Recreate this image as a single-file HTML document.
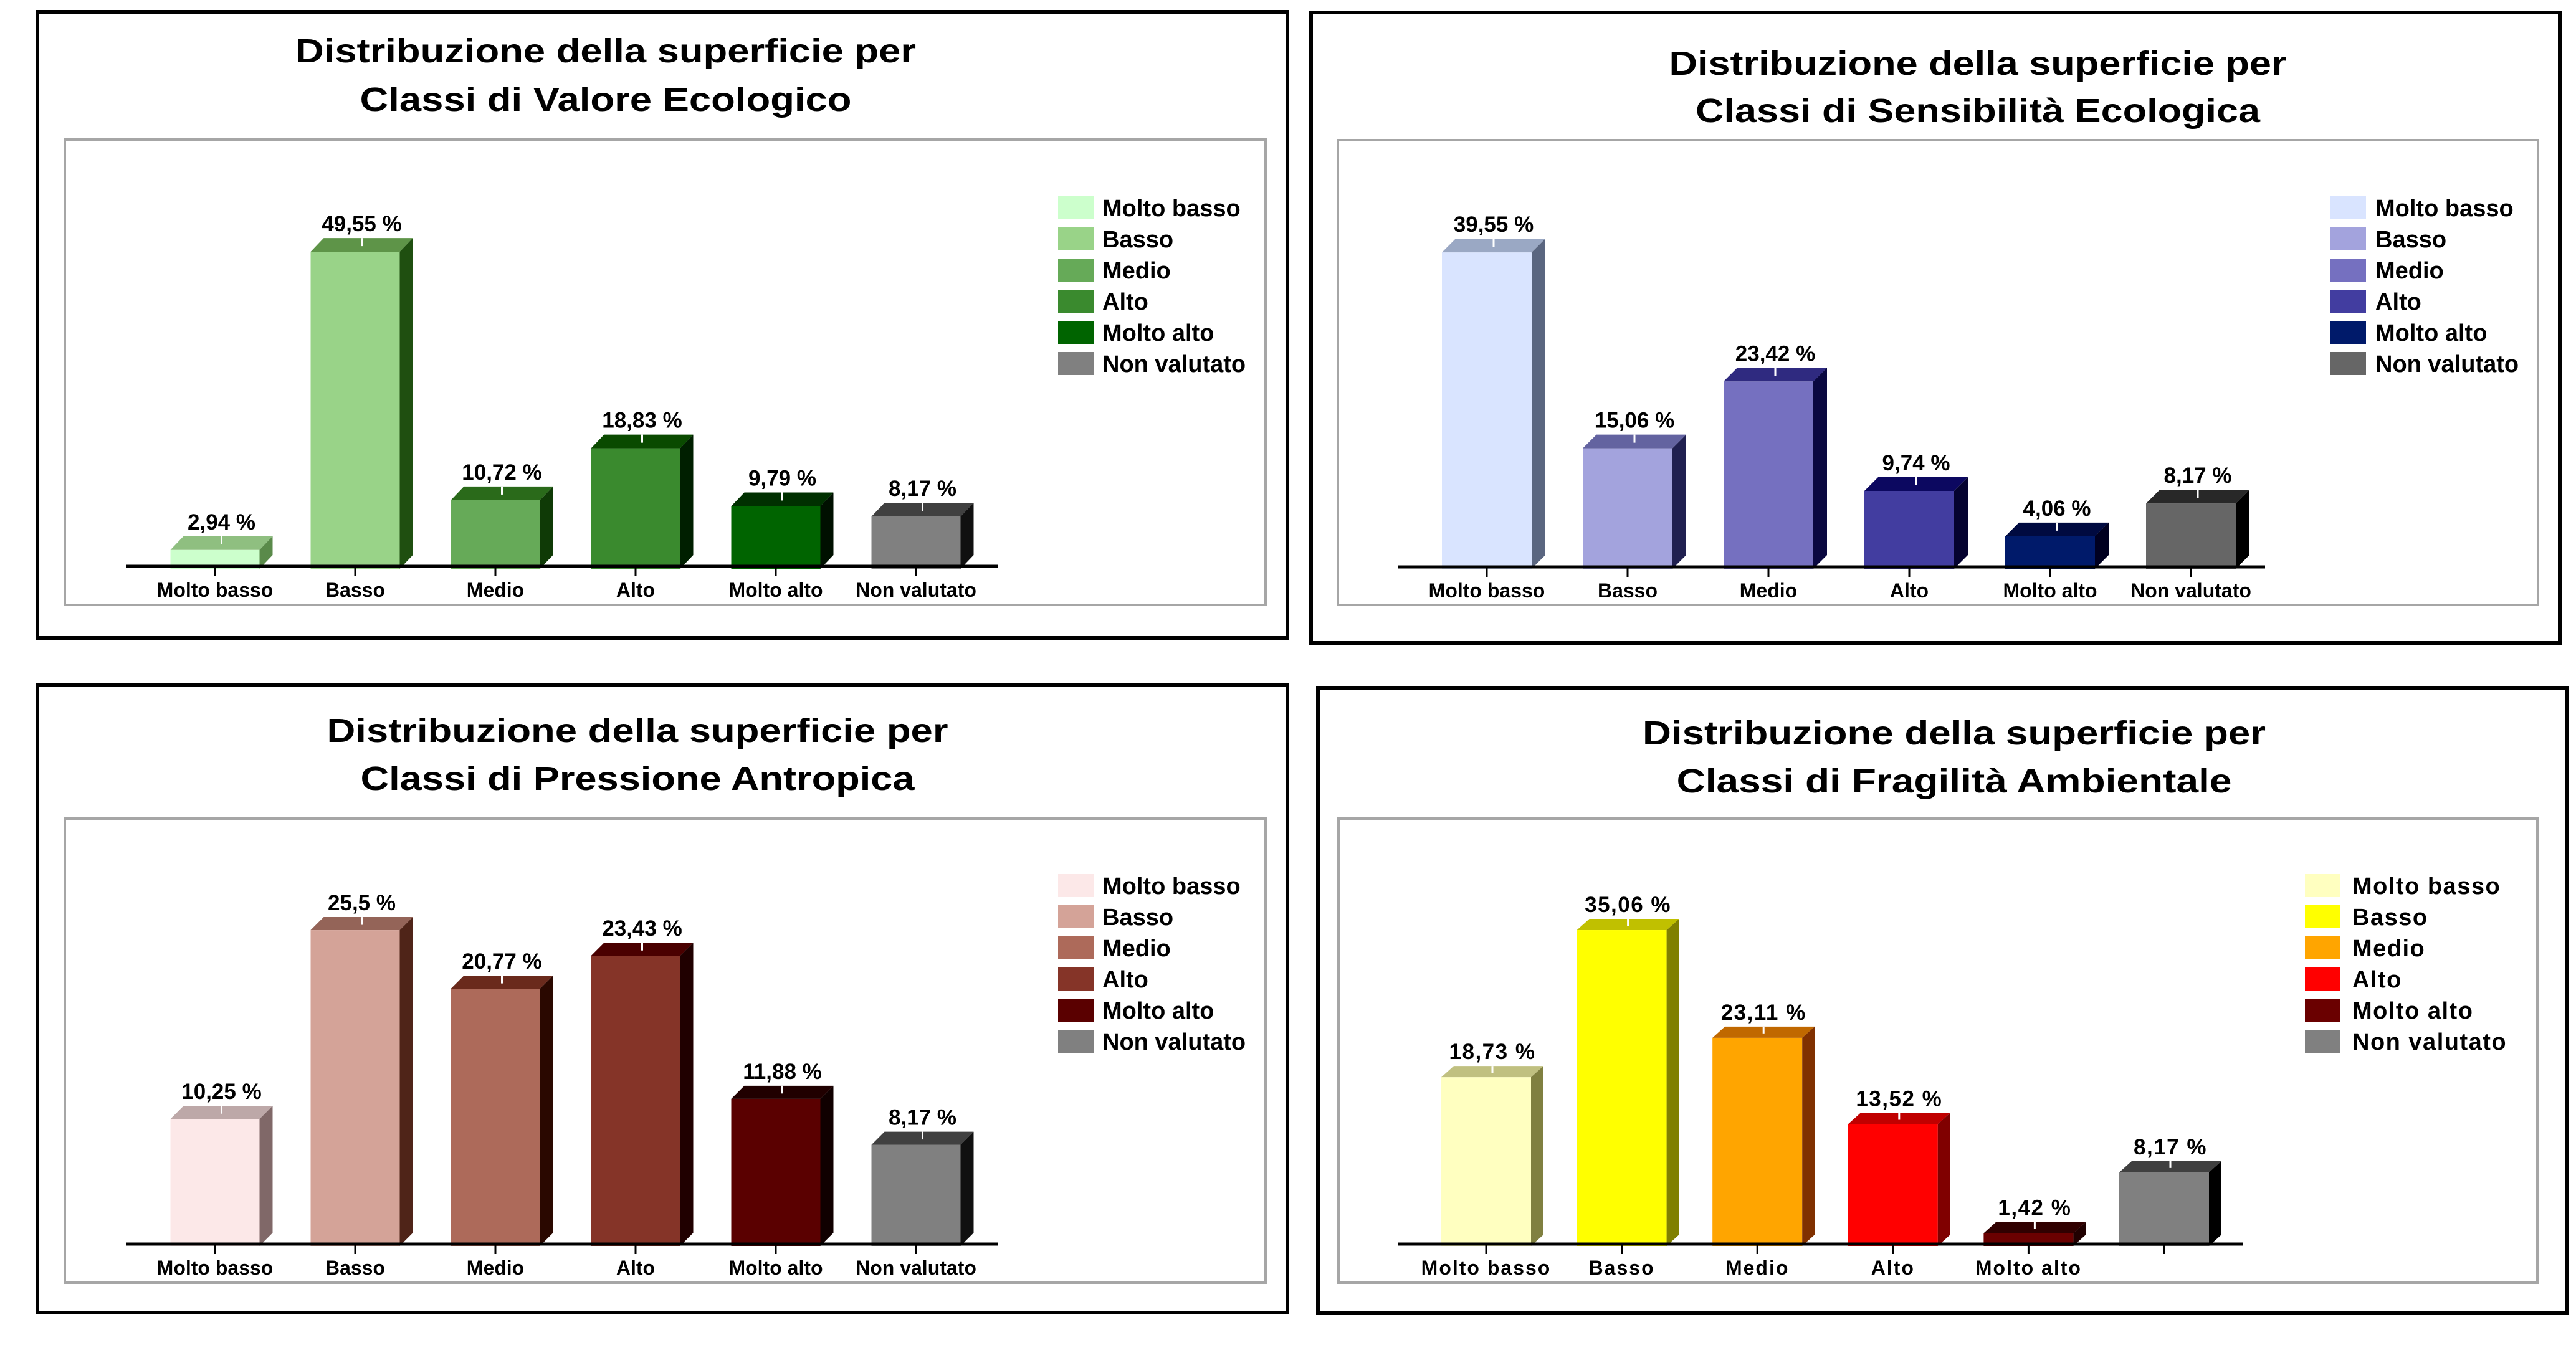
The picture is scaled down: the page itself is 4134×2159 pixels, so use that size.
<!DOCTYPE html>
<html><head><meta charset="utf-8">
<style>
html,body{margin:0;padding:0;background:#fff;}
svg{display:block;font-family:"Liberation Sans",Arial,sans-serif;}
</style></head>
<body>
<svg id="root" width="4134" height="2159" viewBox="0 0 4134 2159" xmlns="http://www.w3.org/2000/svg">
<rect x="0" y="0" width="4134" height="2159" fill="#fff"/>
</svg>
<script>
const categories = ["Molto basso","Basso","Medio","Alto","Molto alto","Non valutato"];
const valuesEco = [2.94, 49.55, 10.72, 18.83, 9.79, 8.17];
const labelsEco = ["2,94 %","49,55 %","10,72 %","18,83 %","9,79 %","8,17 %"];
const valuesSens = [39.55, 15.06, 23.42, 9.74, 4.06, 8.17];
const labelsSens = ["39,55 %","15,06 %","23,42 %","9,74 %","4,06 %","8,17 %"];
const valuesPress = [10.25, 25.5, 20.77, 23.43, 11.88, 8.17];
const labelsPress = ["10,25 %","25,5 %","20,77 %","23,43 %","11,88 %","8,17 %"];
const valuesFrag = [18.73, 35.06, 23.11, 13.52, 1.42, 8.17];
const labelsFrag = ["18,73 %","35,06 %","23,11 %","13,52 %","1,42 %","8,17 %"];
const categoriesFrag = ["Molto basso","Basso","Medio","Alto","Molto alto",""];

const NS = "http://www.w3.org/2000/svg";
const root = document.getElementById('root');
function mk(tag, attrs, parent){
  const e = document.createElementNS(NS, tag);
  for (const k in attrs) e.setAttribute(k, attrs[k]);
  parent.appendChild(e);
  return e;
}

const charts = [
 {key:'valore-ecologico', title1:'Distribuzione della superficie per', title2:'Classi di Valore Ecologico',
  vals:valuesEco, labs:labelsEco, cats:categories,
  border:[60,19,2066,1024], plot:[104,224,2031,971], base:909, axisX:[203,1602], bottom:913,
  c0:345, step:225, bw:143, ppp:10.27, dx:21, dy:22, tcx:972, ty:[100,178], t1w:996, t2w:789,
  lx:1698, ly:315, lstep:50, ltx:1769,
  front:['#ccffcc','#99d388','#66aa58','#3a8a2e','#006400','#808080'],
  top:['#8fbf80','#5e9448','#2a6a1a','#0a4a00','#003000','#404040'],
  side:['#5a8a4a','#1f4f10','#0f3a06','#001f00','#001000','#101010']},
 {key:'sensibilita-ecologica', title1:'Distribuzione della superficie per', title2:'Classi di Sensibilità Ecologica',
  vals:valuesSens, labs:labelsSens, cats:categories,
  border:[2104,20,4108,1032], plot:[2147,225,4073,971], base:910, axisX:[2244,3635], bottom:913,
  c0:2386, step:226, bw:144, ppp:12.84, dx:22, dy:22, tcx:3174, ty:[120,196], t1w:991, t2w:906,
  lx:3740, ly:315, lstep:50, ltx:3812,
  front:['#d9e4ff','#a3a3dd','#7570c0','#423da0','#001a6a','#666666'],
  top:['#9aa8c4','#6363a0','#2f2a80','#0c0860','#000a40','#282828'],
  side:['#5a6680','#202050','#0a0840','#050330','#000020','#000000']},
 {key:'pressione-antropica', title1:'Distribuzione della superficie per', title2:'Classi di Pressione Antropica',
  vals:valuesPress, labs:labelsPress, cats:categories,
  border:[60,1100,2066,2107], plot:[104,1314,2031,2059], base:1997, axisX:[203,1602], bottom:2000,
  c0:345, step:225, bw:143, ppp:19.88, dx:21, dy:21, tcx:1023, ty:[1191,1268], t1w:997, t2w:889,
  lx:1698, ly:1403, lstep:50, ltx:1769,
  front:['#fce8e8','#d4a398','#ad6a5a','#853428','#5a0000','#808080'],
  top:['#bda8a8','#946458','#6a2a1c','#4a0000','#200000','#404040'],
  side:['#806868','#4f2418','#2a0800','#200000','#100000','#101010']},
 {key:'fragilita-ambientale', title1:'Distribuzione della superficie per', title2:'Classi di Fragilità Ambientale',
  vals:valuesFrag, labs:labelsFrag, cats:categoriesFrag,
  border:[2115,1104,4120,2108], plot:[2148,1314,4072,2059], base:1997, axisX:[2244,3600], bottom:2000,
  c0:2385, step:217.6, bw:144, ppp:14.46, dx:20, dy:18, tcx:3136, ty:[1195,1272], t1w:1000, t2w:891,
  lx:3699, ly:1403, lstep:50, ltx:3775, spaced:true,
  front:['#ffffc0','#ffff00','#ffa500','#ff0000','#6a0000','#808080'],
  top:['#c0c080','#c0c000','#c06800','#c00000','#300000','#404040'],
  side:['#808040','#808000','#803000','#800000','#200000','#000000']}
];

charts.forEach(c => {
  const g = mk('g', {}, root);
  
  
  const b = c.border;
  const fr = mk('rect', {x:b[0], y:b[1], width:b[2]-b[0], height:b[3]-b[1], fill:'#fff', stroke:'#000', 'stroke-width':6}, g);
  
  
  const t1 = mk('text', {x:c.tcx, y:c.ty[0], 'text-anchor':'middle', 'font-size':54, 'font-weight':'bold', textLength:c.t1w, lengthAdjust:'spacingAndGlyphs'}, g);
  t1.textContent = c.title1;
  
  
  const t2 = mk('text', {x:c.tcx, y:c.ty[1], 'text-anchor':'middle', 'font-size':54, 'font-weight':'bold', textLength:c.t2w, lengthAdjust:'spacingAndGlyphs'}, g);
  t2.textContent = c.title2;
  
  
  const p = c.plot;
  const pa = mk('rect', {x:p[0], y:p[1], width:p[2]-p[0], height:p[3]-p[1], fill:'#fff', stroke:'#a6a6a6', 'stroke-width':4}, g);
  
  

  const xPos = i => c.c0 + i * c.step;
  const yPos = v => c.bottom - v * c.ppp;

  c.vals.forEach((v, i) => {
    const cx = xPos(i), x0 = cx - c.bw/2, x1 = cx + c.bw/2;
    const yt = yPos(v), yb = c.bottom, dx = c.dx, dy = c.dy;
    const bar = mk('g', {}, g);
    
    
    mk('rect', {x:x0, y:yt, width:c.bw, height:yb-yt, fill:c.front[i]}, bar);
    mk('polygon', {points:`${x0},${yt} ${x0+dx},${yt-dy} ${x1+dx},${yt-dy} ${x1},${yt}`, fill:c.top[i]}, bar);
    mk('polygon', {points:`${x1},${yt} ${x1+dx},${yt-dy} ${x1+dx},${yb-dy} ${x1},${yb}`, fill:c.side[i]}, bar);
    mk('line', {x1:cx+dx/2, y1:yt-dy, x2:cx+dx/2, y2:yt-dy/2+2, stroke:'#fff', 'stroke-width':3}, bar);
    const vl = mk('text', {x:cx+dx/2, y:yt-dy-11, 'text-anchor':'middle', 'font-size':35, 'font-weight':'bold', 'letter-spacing': c.spaced ? 1.5 : 0}, g);
    vl.textContent = c.labs[i];
    
    
    mk('line', {x1:cx, y1:c.base, x2:cx, y2:c.base+16, stroke:'#000', 'stroke-width':3}, g);
    if (c.cats[i]) {
      const cl = mk('text', {x:cx, y:c.base+49, 'text-anchor':'middle', 'font-size':32, 'font-weight':'bold', 'letter-spacing': c.spaced ? 2 : 0}, g);
      cl.textContent = c.cats[i];
      
      
    }
  });
  const ax = mk('line', {x1:c.axisX[0], y1:c.base, x2:c.axisX[1], y2:c.base, stroke:'#000', 'stroke-width':5}, g);
  
  

  categories.forEach((name, i) => {
    const le = mk('g', {}, g);
    
    
    const y = c.ly + i * c.lstep;
    mk('rect', {x:c.lx, y:y, width:57, height:37, fill:c.front[i]}, le);
    const lt = mk('text', {x:c.ltx, y:y+32, 'font-size':38, 'font-weight':'bold', 'letter-spacing': c.spaced ? 1.5 : 0}, le);
    lt.textContent = name;
  });
});
</script>
</body></html>
